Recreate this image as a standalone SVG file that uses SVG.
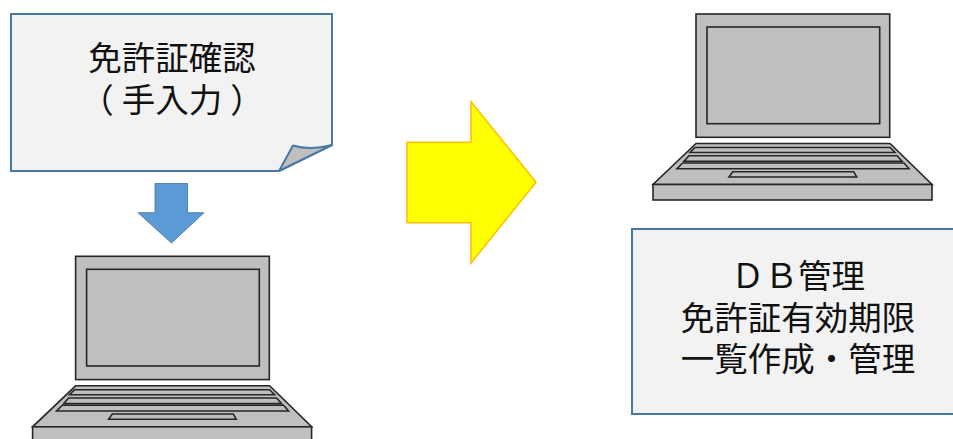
<svg xmlns="http://www.w3.org/2000/svg" xmlns:xlink="http://www.w3.org/1999/xlink" width="953" height="439" viewBox="0 0 953 439">
<style>
.box{fill:#f2f2f2;stroke:#4a78a4;stroke-width:2}
.fold{fill:#bfbfbf;stroke:#4a78a4;stroke-width:2;stroke-linejoin:round}
.lap{fill:#bfbfbf;stroke:#262626;stroke-width:1.6;stroke-linejoin:miter}
text{font-family:"Noto Sans CJK JP","Noto Sans",sans-serif;font-size:33.5px;fill:#111;text-anchor:middle}
.s{text-anchor:start}
</style>
<defs>
<g id="laptop">
<rect class="lap" x="696" y="14" width="193.7" height="123.3"/>
<rect class="lap" x="707" y="27" width="172.7" height="96.7"/>
<path class="lap" d="M696 143.5H890L932 184.5H653Z"/>
<rect class="lap" x="653" y="184.5" width="279" height="15.5"/>
<path class="lap" d="M695 147.5H890L895 152.5H690Z"/>
<path class="lap" d="M689 155.7H897L902 161.3H684Z"/>
<path class="lap" d="M682.7 163H904L909 168.7H677Z"/>
<path class="lap" d="M732.7 171.7H853.7L856.7 177H729Z"/>
</g>
</defs>
<g id="note">
<path class="box" d="M11 14H332V145L279 171H11Z"/>
<path class="fold" d="M279 171L293 145.5C304 149 318 148.5 332 145Z"/>
<text><tspan x="172" y="70">免許証確認</tspan><tspan class="s" x="80.25 121.75 155.25 188.75 230.25" y="112">（手入力）</tspan></text>
</g>
<g id="laptop-left"><use xlink:href="#laptop" href="#laptop" transform="translate(-620.4 242.3)"/></g>
<g id="laptop-right"><use xlink:href="#laptop" href="#laptop"/></g>
<g id="db-box">
<rect class="box" x="632" y="229" width="330" height="185"/>
<text><tspan x="798" y="288">ＤＢ管理</tspan><tspan x="798" y="329.5">免許証有効期限</tspan><tspan x="798" y="371">一覧作成・管理</tspan></text>
</g>
<g id="connectors">
<path d="M155 183.5H187.5V212.7H204L171.5 243L138 212.7H155Z" fill="#5b9bd5" stroke="#41719c" stroke-width="0.8"/>
<path d="M407 142.3H471V101.7L536 182.3L471 263V222.7H407Z" fill="#ffff00" stroke="#ffc000" stroke-width="1.6"/>
</g>
</svg>
